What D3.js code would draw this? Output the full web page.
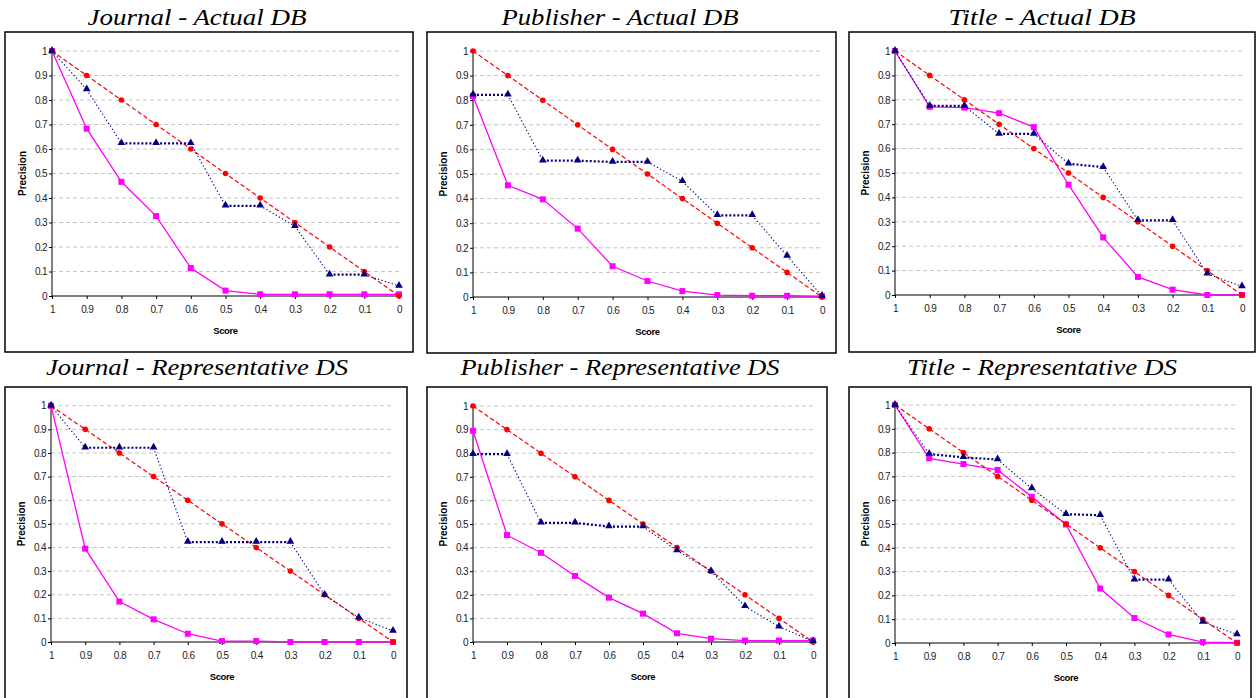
<!DOCTYPE html>
<html><head><meta charset="utf-8">
<script src="https://cdn.jsdelivr.net/npm/d3@7"></script>
<style>
html,body{margin:0;padding:0;background:#fff;}
svg{display:block;}
</style></head>
<body>
<svg id="chart" width="1257" height="698"></svg>
<script>
// ---------- DATA ----------
const scores = [1, 0.9, 0.8, 0.7, 0.6, 0.5, 0.4, 0.3, 0.2, 0.1, 0];
const scoreLabels = ["1", "0.9", "0.8", "0.7", "0.6", "0.5", "0.4", "0.3", "0.2", "0.1", "0"];
const precisionTicks = [0, 0.1, 0.2, 0.3, 0.4, 0.5, 0.6, 0.7, 0.8, 0.9, 1];
const precisionTickLabels = ["0", "0.1", "0.2", "0.3", "0.4", "0.5", "0.6", "0.7", "0.8", "0.9", "1"];

const titles = ["Journal - Actual DB", "Publisher - Actual DB", "Title - Actual DB",
                "Journal - Representative DS", "Publisher - Representative DS", "Title - Representative DS"];

// red dashed series (diamond markers) – identical in all panels
const redValues = [1, 0.9, 0.8, 0.7, 0.6, 0.5, 0.4, 0.3, 0.2, 0.1, 0];

// dark blue dotted series (triangles)
const blueJournalActual   = [1, 0.843, 0.623, 0.623, 0.623, 0.368, 0.368, 0.285, 0.087, 0.087, 0.041];
const bluePublisherActual = [0.822, 0.822, 0.554, 0.554, 0.549, 0.549, 0.470, 0.332, 0.332, 0.167, 0.004];
const blueTitleActual     = [1, 0.775, 0.775, 0.660, 0.660, 0.538, 0.524, 0.306, 0.306, 0.087, 0.035];
const blueJournalRep      = [1, 0.822, 0.822, 0.822, 0.423, 0.423, 0.423, 0.423, 0.199, 0.103, 0.047];
const bluePublisherRep    = [0.796, 0.796, 0.505, 0.505, 0.489, 0.489, 0.388, 0.300, 0.151, 0.065, 0.003];
const blueTitleRep        = [1, 0.794, 0.780, 0.771, 0.649, 0.541, 0.537, 0.266, 0.266, 0.088, 0.036];

// magenta solid series (squares)
const magentaJournalActual   = [1, 0.683, 0.466, 0.326, 0.114, 0.022, 0.007, 0.007, 0.007, 0.007, 0.007];
const magentaPublisherActual = [0.817, 0.454, 0.397, 0.278, 0.125, 0.065, 0.024, 0.008, 0.005, 0.005, 0.003];
const magentaTitleActual     = [1, 0.771, 0.768, 0.745, 0.688, 0.452, 0.236, 0.074, 0.022, 0.0, 0.0];
const magentaJournalRep      = [1, 0.395, 0.171, 0.096, 0.035, 0.004, 0.004, 0.0, 0.0, 0.0, 0.0];
const magentaPublisherRep    = [0.895, 0.453, 0.378, 0.280, 0.188, 0.120, 0.037, 0.014, 0.006, 0.006, 0.006];
const magentaTitleRep        = [1, 0.776, 0.752, 0.727, 0.614, 0.498, 0.229, 0.105, 0.036, 0.004, 0.001];

const blueSeries = [blueJournalActual, bluePublisherActual, blueTitleActual, blueJournalRep, bluePublisherRep, blueTitleRep];
const magentaSeries = [magentaJournalActual, magentaPublisherActual, magentaTitleActual, magentaJournalRep, magentaPublisherRep, magentaTitleRep];

// ---------- LAYOUT ----------
const layouts = [
  {box:[5,32,413,352],   px:[52,399],  py:[296,51],    titleX:197,  titleY:25,  titleW:219},
  {box:[427,32,836,353], px:[473,822], py:[297,51],    titleX:620,  titleY:25,  titleW:237},
  {box:[849,32,1255,352],px:[895,1242],py:[295,51],    titleX:1042, titleY:25,  titleW:187},
  {box:[5,387,407,702],  px:[51,393],  py:[642,405.7], titleX:197,  titleY:375, titleW:302},
  {box:[427,387,827,702],px:[473,813], py:[642,406],   titleX:620,  titleY:375, titleW:319},
  {box:[849,387,1251,702],px:[895,1237],py:[643,405],  titleX:1042, titleY:375, titleW:270}
];

const svg = d3.select("#chart");
const tickFont = "'Liberation Sans', Arial, sans-serif";

layouts.forEach((L, k) => {
  const g = svg.append("g");
  const x = d3.scalePoint().domain(scores).range(L.px);
  const y = d3.scaleLinear().domain([0, 1]).range(L.py);

  // box
  g.append("rect")
    .attr("x", L.box[0]).attr("y", L.box[1])
    .attr("width", L.box[2] - L.box[0]).attr("height", L.box[3] - L.box[1])
    .attr("fill", "none").attr("stroke", "#000").attr("stroke-width", 1.5);

  // title
  g.append("text")
    .attr("x", L.titleX).attr("y", L.titleY)
    .attr("text-anchor", "middle")
    .attr("font-family", "'Liberation Serif', 'DejaVu Serif', serif")
    .attr("font-style", "italic")
    .attr("font-size", 23)
    .attr("textLength", L.titleW).attr("lengthAdjust", "spacingAndGlyphs")
    .text(titles[k]);

  // gridlines
  g.append("g").selectAll("line")
    .data(precisionTicks.filter(t => t > 0))
    .join("line")
    .attr("x1", L.px[0]).attr("x2", L.px[1])
    .attr("y1", d => y(d)).attr("y2", d => y(d))
    .attr("stroke", "#c4c4c4").attr("stroke-width", 1)
    .attr("stroke-dasharray", "4,3");

  // y axis
  const yAxis = d3.axisLeft(y).tickValues(precisionTicks)
    .tickFormat((d, i) => precisionTickLabels[i]).tickSize(3).tickPadding(2);
  const ya = g.append("g").attr("transform", `translate(${L.px[0]},0)`).call(yAxis);
  ya.select(".domain").attr("stroke", "#000").attr("d", `M0,${L.py[0]}V${L.py[1]}`);
  ya.selectAll("text").attr("font-family", tickFont).attr("font-size", 10)
    .attr("letter-spacing", -0.6).attr("fill", "#222");

  // x axis
  const xAxis = d3.axisBottom(x).tickFormat((d, i) => scoreLabels[i]).tickSize(3).tickPadding(7);
  const xa = g.append("g").attr("transform", `translate(0,${L.py[0]})`).call(xAxis);
  xa.select(".domain").attr("stroke", "#000").attr("d", `M${L.px[0]},0H${L.px[1]}`);
  xa.selectAll("text").attr("font-family", tickFont).attr("font-size", 10)
    .attr("letter-spacing", -0.6).attr("fill", "#222");

  // axis titles
  g.append("text")
    .attr("x", (L.px[0] + L.px[1]) / 2).attr("y", L.py[0] + 37.5)
    .attr("text-anchor", "middle").attr("font-family", tickFont)
    .attr("font-weight", "bold").attr("font-size", 9.5).attr("letter-spacing", -0.4)
    .text("Score");
  g.append("text")
    .attr("transform", `translate(${L.px[0] - 26},${(L.py[0] + L.py[1]) / 2}) rotate(-90)`)
    .attr("text-anchor", "middle").attr("font-family", tickFont)
    .attr("font-weight", "bold").attr("font-size", 10)
    .text("Precision");

  const line = d3.line().x((d, i) => x(scores[i])).y(d => y(d));

  // magenta series
  const mag = magentaSeries[k];
  g.append("path").attr("d", line(mag)).attr("fill", "none")
    .attr("stroke", "#ff00ff").attr("stroke-width", 1.3);
  g.append("g").selectAll("rect").data(mag).join("rect")
    .attr("x", (d, i) => x(scores[i]) - 3).attr("y", d => y(d) - 3)
    .attr("width", 6).attr("height", 6).attr("fill", "#ff00ff");

  // red series
  g.append("path").attr("d", line(redValues)).attr("fill", "none")
    .attr("stroke", "#ff0000").attr("stroke-width", 1.2).attr("stroke-dasharray", "4.5,2.5");
  g.append("g").selectAll("circle").data(redValues).join("circle")
    .attr("cx", (d, i) => x(scores[i])).attr("cy", d => y(d))
    .attr("r", 2.8).attr("fill", "#ff0000");

  // blue series: segment-wise (flat steps render bolder in the reference)
  const blue = blueSeries[k];
  const segs = d3.pairs(blue.map((v, i) => [scores[i], v]));
  g.append("g").selectAll("line").data(segs).join("line")
    .attr("x1", d => x(d[0][0])).attr("y1", d => y(d[0][1]))
    .attr("x2", d => x(d[1][0])).attr("y2", d => y(d[1][1]))
    .attr("stroke", "#000080")
    .attr("stroke-width", d => Math.abs(d[0][1] - d[1][1]) < 0.02 ? 2.2 : 1.1)
    .attr("stroke-dasharray", d => Math.abs(d[0][1] - d[1][1]) < 0.02 ? "2,2" : "1.3,2.3");
  const tri = d3.symbol().type(d3.symbolTriangle).size(26);
  g.append("g").selectAll("path").data(blue).join("path")
    .attr("transform", (d, i) => `translate(${x(scores[i])},${y(d) - 0.5})`)
    .attr("d", tri()).attr("fill", "#000080");
});
</script>
</body></html>
